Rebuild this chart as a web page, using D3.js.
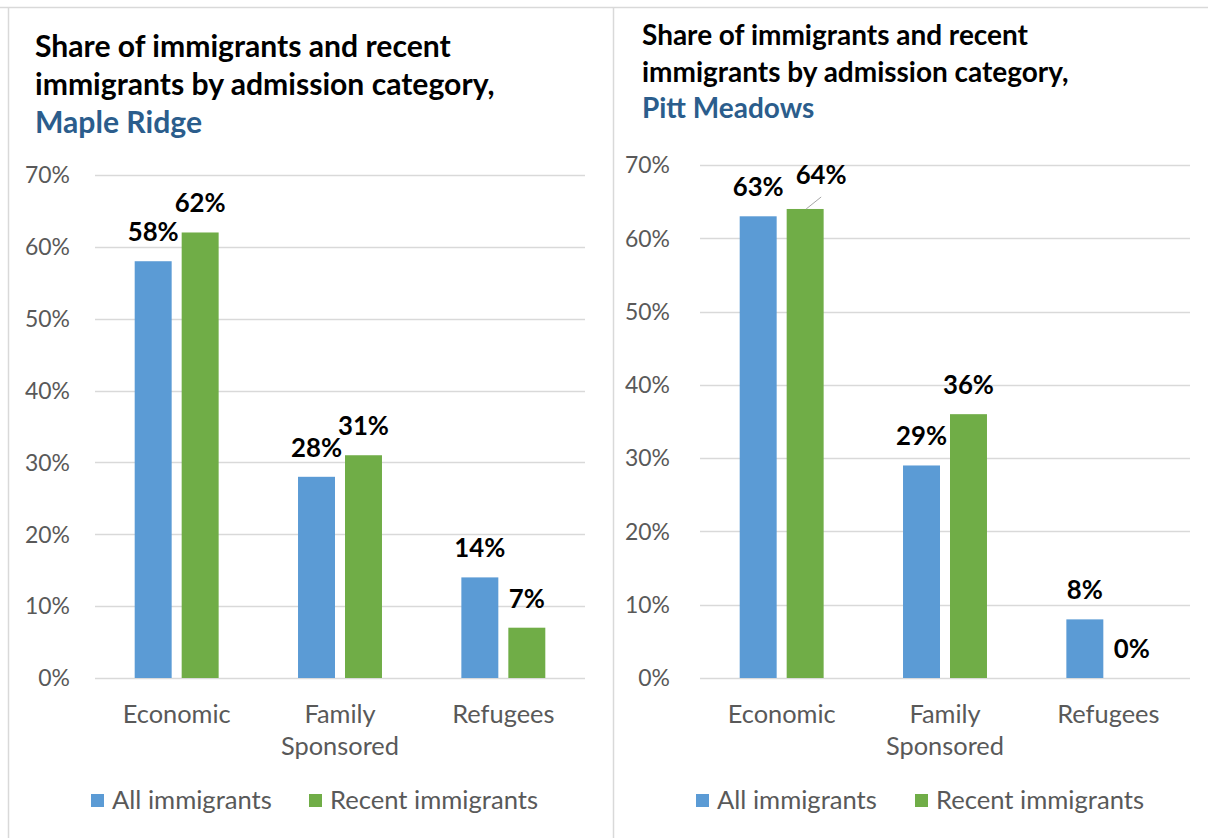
<!DOCTYPE html>
<html>
<head>
<meta charset="utf-8">
<script src="https://cdn.jsdelivr.net/npm/d3@7"></script>
<style>
  html, body { margin: 0; padding: 0; background: #fff; }
  svg { display: block; }
  text { font-family: Lato, "Noto Sans", sans-serif; }
</style>
</head>
<body>
<svg id="chart" width="1208" height="838"></svg>
<script>
// ---- data ----
const categories = ["Economic", "Family Sponsored", "Refugees"];
const seriesNames = ["All immigrants", "Recent immigrants"];
const mapleRidgeAll = [58, 28, 14];
const mapleRidgeRecent = [62, 31, 7];
const pittMeadowsAll = [63, 29, 8];
const pittMeadowsRecent = [64, 36, 0];
const yTicks = [0, 10, 20, 30, 40, 50, 60, 70];
const titleLines = ["Share of immigrants and recent", "immigrants by admission category,"];
const places = ["Maple Ridge", "Pitt Meadows"];

// ---- styles ----
const colors = ["#5B9BD5", "#70AD47"];
const gridColor = "#D9D9D9";
const axisText = "#595959";
const placeColor = "#2B5D8C";

const svg = d3.select("#chart");

function fitSize(str, weight, target) {
  const t = svg.append("text").attr("font-size", 100).attr("font-weight", weight).text(str);
  const w = t.node().getComputedTextLength();
  t.remove();
  return 100 * target / w;
}
const axisSize = fitSize("Economic", 400, 108);
const tickSize = fitSize("70%", 400, 45);
const legendSize = fitSize("All immigrants", 400, 160);
const labelSize = fitSize("58%", 700, 51);
const titleSizeL = fitSize(titleLines[0], 700, 416);
const titleSizeR = fitSize(titleLines[0], 700, 386);

// panel borders
svg.append("line").attr("x1", 0).attr("x2", 1208).attr("y1", 7.5).attr("y2", 7.5)
  .attr("stroke", gridColor).attr("stroke-width", 1.5);
svg.append("line").attr("x1", 8.5).attr("x2", 8.5).attr("y1", 7.5).attr("y2", 838)
  .attr("stroke", gridColor).attr("stroke-width", 1.5);
svg.append("line").attr("x1", 613.5).attr("x2", 613.5).attr("y1", 7.5).attr("y2", 838)
  .attr("stroke", gridColor).attr("stroke-width", 1.5);

const panels = [
  { place: places[0], all: mapleRidgeAll, recent: mapleRidgeRecent,
    titleX: 35, titleY: [57, 95, 133], titleSize: titleSizeL,
    x0: 95, x1: 585, yTop: 175, yBottom: 678, tickX: 70,
    legendX: [91, 309], moved: null },
  { place: places[1], all: pittMeadowsAll, recent: pittMeadowsRecent,
    titleX: 642, titleY: [45, 82, 118], titleSize: titleSizeR,
    x0: 700, x1: 1190, yTop: 165, yBottom: 678, tickX: 670,
    legendX: [696, 915], moved: { cat: 0, series: 1, dx: 16, dy: -5 } }
];

panels.forEach(p => {
  const g = svg.append("g");

  // title
  titleLines.forEach((line, i) => {
    g.append("text").attr("x", p.titleX).attr("y", p.titleY[i])
      .attr("font-size", p.titleSize).attr("font-weight", 700).attr("fill", "#000")
      .text(line);
  });
  g.append("text").attr("x", p.titleX).attr("y", p.titleY[2])
    .attr("font-size", p.titleSize).attr("font-weight", 700).attr("fill", placeColor)
    .text(p.place);

  const y = d3.scaleLinear().domain([0, 70]).range([p.yBottom, p.yTop]);
  const x = d3.scaleBand().domain(categories).range([p.x0, p.x1])
    .paddingInner(0.486).paddingOuter(0.243);
  const xs = d3.scaleBand().domain(seriesNames).range([0, x.bandwidth()])
    .paddingInner(0.213).paddingOuter(0);

  // gridlines
  g.selectAll(".grid").data(yTicks).join("line")
    .attr("x1", p.x0).attr("x2", p.x1)
    .attr("y1", d => Math.round(y(d)) + 0.5).attr("y2", d => Math.round(y(d)) + 0.5)
    .attr("stroke", gridColor).attr("stroke-width", 1.5);

  // y tick labels
  g.selectAll(".ytick").data(yTicks).join("text")
    .attr("x", p.tickX).attr("y", d => y(d)).attr("dy", "0.36em")
    .attr("text-anchor", "end").attr("font-size", tickSize).attr("fill", axisText)
    .text(d => d + "%");

  // bars
  const rows = categories.map((c, i) => ({ cat: c, i, vals: [p.all[i], p.recent[i]] }));
  const grp = g.selectAll(".grp").data(rows).join("g")
    .attr("transform", d => `translate(${x(d.cat)},0)`);
  grp.selectAll("rect").data(d => d.vals.map((v, s) => ({ v, s, i: d.i })))
    .join("rect")
    .attr("x", d => xs(seriesNames[d.s]))
    .attr("width", xs.bandwidth())
    .attr("y", d => y(d.v))
    .attr("height", d => y(0) - y(d.v))
    .attr("fill", d => colors[d.s]);

  // data labels
  grp.selectAll("text.lbl").data(d => d.vals.map((v, s) => ({ v, s, i: d.i })))
    .join("text").attr("class", "lbl")
    .each(function(d) {
      const mv = p.moved && p.moved.cat === d.i && p.moved.series === d.s ? p.moved : null;
      const cx = xs(seriesNames[d.s]) + xs.bandwidth() / 2 + (mv ? mv.dx : 0);
      const by = y(d.v) - 20 + (mv ? mv.dy : 0);
      d3.select(this).attr("x", cx).attr("y", by);
      if (mv) {
        d3.select(this.parentNode).append("line")
          .attr("x1", xs(seriesNames[d.s]) + xs.bandwidth() / 2 + 1).attr("y1", y(d.v))
          .attr("x2", xs(seriesNames[d.s]) + xs.bandwidth() / 2 + 16).attr("y2", y(d.v) - 12)
          .attr("stroke", "#A6A6A6").attr("stroke-width", 1);
      }
    })
    .attr("text-anchor", "middle").attr("font-size", labelSize).attr("font-weight", 700)
    .attr("fill", "#000")
    .text(d => d.v + "%");

  // x axis labels
  grp.each(function(d) {
    const words = d.cat.split(" ");
    const t = d3.select(this).append("text")
      .attr("text-anchor", "middle").attr("font-size", axisSize).attr("fill", axisText);
    words.forEach((w, k) => {
      t.append("tspan").attr("x", x.bandwidth() / 2).attr("y", 723 + k * 32).text(w);
    });
  });

  // legend
  seriesNames.forEach((s, k) => {
    g.append("rect").attr("x", p.legendX[k]).attr("y", 794).attr("width", 13).attr("height", 13)
      .attr("fill", colors[k]);
    g.append("text").attr("x", p.legendX[k] + 21).attr("y", 800).attr("dy", "0.35em")
      .attr("font-size", legendSize).attr("fill", axisText).text(s);
  });
});
</script>
</body>
</html>
